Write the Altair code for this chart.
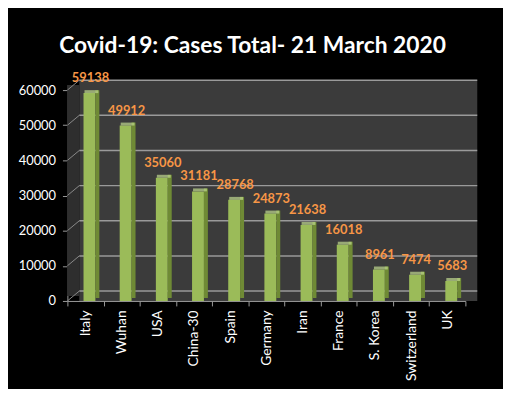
import altair as alt
import pandas as pd

countries = ["Italy", "Wuhan", "USA", "China-30", "Spain", "Germany", "Iran",
             "France", "S. Korea", "Switzerland", "UK"]
cases = [59138, 49912, 35060, 31181, 28768, 24873, 21638, 16018, 8961, 7474, 5683]
y_ticks = [0, 10000, 20000, 30000, 40000, 50000, 60000]
title_text = "Covid-19: Cases Total- 21 March 2020"

df = pd.DataFrame({"country": countries, "cases": cases})
grid_df = pd.DataFrame({"v": y_ticks})

W, H = 402, 223
FONT = "Lato"

x_scale = alt.Scale(domain=countries, range=[-12, W - 12],
                    paddingInner=0, paddingOuter=0)
x_axis = alt.Axis(title=None, labelAngle=270, labelAlign="right",
                  labelBaseline="middle", labelColor="white",
                  labelFont=FONT, labelFontSize=14, labelPadding=4,
                  tickBand="extent", tickSize=5, tickColor="#9a9a9a",
                  domainColor="#9a9a9a", grid=False)
x_enc = alt.X("country:N", sort=countries, scale=x_scale, axis=x_axis)

y_scale = alt.Scale(domain=[0, 60000], range=[H, 10], nice=False, zero=True)
y_axis = alt.Axis(orient="left", title=None, values=y_ticks, offset=12,
                  format="d", labelOverlap=False, tickCount=7,
                  labelColor="white", labelFont=FONT, labelFontSize=13,
                  tickSize=5, tickColor="#9a9a9a", domainColor="#9a9a9a",
                  labelPadding=7, grid=False)

wall = alt.Chart(grid_df).mark_rect(color="#2e2e2e").encode(
    x=alt.value(-12), x2=alt.value(0), y=alt.value(5), y2=alt.value(H - 5))
grid = alt.Chart(grid_df).mark_rule(color="#9a9a9a", strokeWidth=1.5,
                                    yOffset=-10).encode(
    x=alt.value(0), x2=alt.value(W),
    y=alt.Y("v:Q", scale=y_scale, axis=y_axis))
diag = alt.Chart(grid_df).mark_rule(color="#8a8a8a", strokeWidth=1,
                                    y2Offset=-10).encode(
    x=alt.value(-12), x2=alt.value(0),
    y=alt.Y("v:Q", scale=y_scale, axis=y_axis), y2="v:Q")

base = alt.Chart(df)
yc = alt.Y("cases:Q", scale=y_scale, axis=y_axis)
side = base.mark_bar(width=4, xOffset=12, yOffset=-3, color="#6f8a35").encode(
    x=x_enc, y=yc)
top = base.mark_tick(size=14, thickness=3, xOffset=6, yOffset=-1.5,
                     color="#c0d890").encode(x=x_enc, y=yc)
front = base.mark_bar(width=12, xOffset=4, color="#9bbb59").encode(
    x=x_enc, y=yc)
labels = base.mark_text(font=FONT, fontSize=13, fontWeight="bold",
                        color="#f79646", baseline="alphabetic", dy=-11,
                        xOffset=5).encode(x=x_enc, y=yc, text="cases:Q")

chart = alt.layer(wall, grid, diag, front, side, top, labels).properties(
    width=W, height=H,
    background="black",
    autosize=alt.AutoSizeParams(type="none"),
    padding={"left": 72, "top": 71, "right": 26, "bottom": 87},
    title=alt.TitleParams(text=title_text, color="white", font=FONT,
                          fontSize=23, fontWeight="bold", anchor="middle",
                          dx=-26, offset=15),
).configure_view(fill="#3b3b3b", stroke=None)

chart.save("out.html", embed_options={"renderer": "svg", "actions": False})
